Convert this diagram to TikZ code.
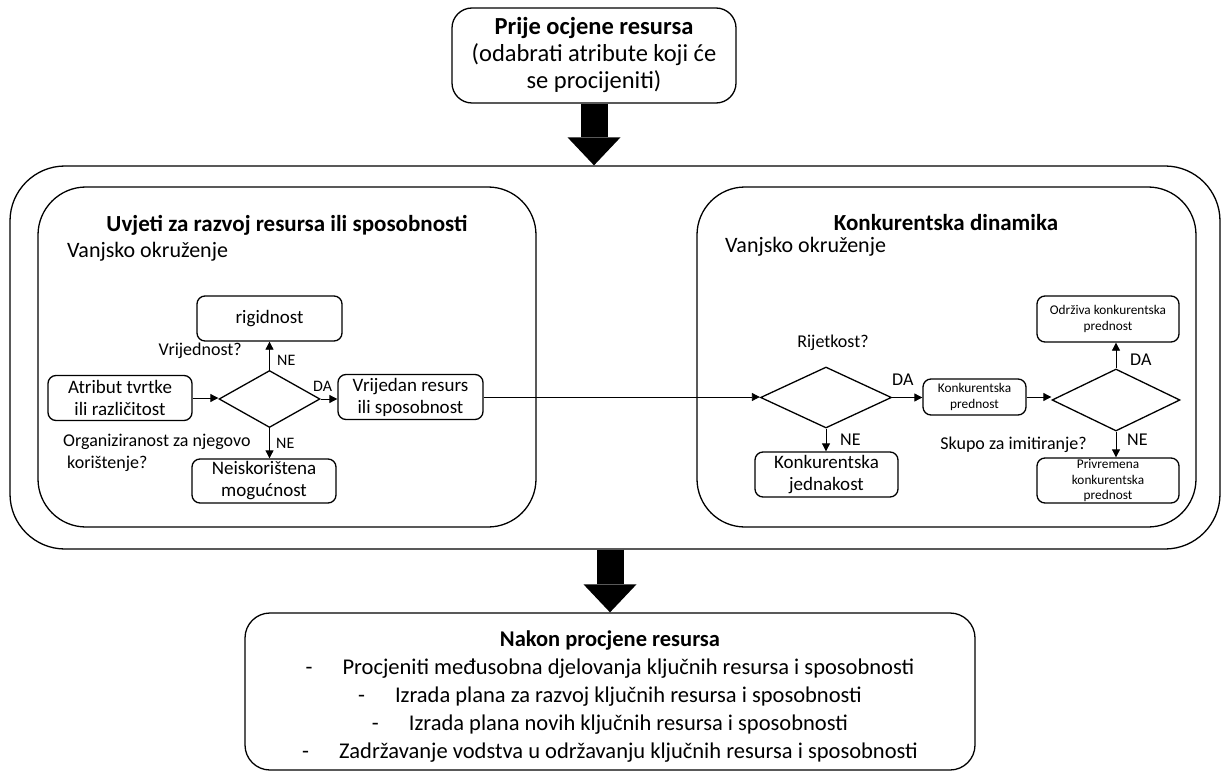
\documentclass[tikz,border=0pt]{standalone}
\usepackage{fontspec}
\setmainfont{Carlito}
\usetikzlibrary{shapes.geometric, arrows.meta}
\tikzstyle{arrow} = [line width=0.8pt,-{Triangle[length=8pt,width=8pt]}]
\tikzstyle{bigarrow} = [line width=27pt,-{Triangle[length=28pt,width=53pt,line width=0pt]}]
\tikzstyle{box} = [rectangle, rounded corners=8pt, draw=black, line width=1.3pt, align=center, inner sep=0pt, font=\fontsize{19}{22}\selectfont]
\tikzstyle{smallbox} = [box, font=\fontsize{13.3}{15.5}\selectfont]
\tikzstyle{decision} = [diamond, draw=black, line width=1.3pt, inner sep=0pt]
\tikzstyle{panel} = [rectangle, draw=black, line width=1.3pt, rounded corners=48pt]
\tikzstyle{heading} = [inner sep=0pt, font=\fontsize{23}{27}\selectfont\bfseries]
\tikzstyle{env} = [inner sep=0pt, font=\fontsize{22}{26}\selectfont]
\tikzstyle{note} = [inner sep=0pt, font=\fontsize{18}{22}\selectfont]
\tikzstyle{answer} = [inner sep=0pt, font=\fontsize{16}{19}\selectfont]

\begin{document}
\begin{tikzpicture}[x=1pt,y=-1pt]
        \useasboundingbox (0,0) rectangle (1224,778);

        % Before the assessment
        \node (before) at (594,55.5) [box, rounded corners=20pt, minimum width=284pt, minimum height=95pt,
        font=\fontsize{24.5}{27}\selectfont]
        {\textbf{Prije ocjene resursa}\\(odabrati atribute koji će\\se procijeniti)};

        % Frame and panels
        \node (outer) at (615,357.5) [panel, rounded corners=55pt, minimum width=1210pt, minimum height=383pt] {};
        \node (leftpanel) at (287,357) [panel, minimum width=498pt, minimum height=340pt] {};
        \node (rightpanel) at (946.5,357) [panel, minimum width=499pt, minimum height=340pt] {};

        % Panel titles
        \node (lefttitle) at (287,225) [heading] {Uvjeti za razvoj resursa ili sposobnosti};
        \node (leftenv) at (67,252) [env, anchor=west] {Vanjsko okruženje};
        \node (righttitle) at (946,223) [heading] {Konkurentska dinamika};
        \node (rightenv) at (725,247) [env, anchor=west] {Vanjsko okruženje};

        % Left flow
        \node (attr) at (120,398) [box, minimum width=144pt, minimum height=45pt] {Atribut tvrtke\\ili različitost};
        \node (value) at (269.5,399) [decision, minimum width=101pt, minimum height=57pt] {};
        \node (rigid) at (269.5,318.5) [box, minimum width=145pt, minimum height=45pt] {rigidnost};
        \node (valres) at (410.5,397) [box, minimum width=145pt, minimum height=45pt] {Vrijedan resurs\\ili sposobnost};
        \node (unused) at (264,481) [box, minimum width=144pt, minimum height=44pt] {Neiskorištena\\mogućnost};

        % Right flow
        \node (rare) at (826,397.5) [decision, minimum width=131pt, minimum height=61pt] {};
        \node (advant) at (974.5,397) [smallbox, minimum width=103pt, minimum height=36pt] {Konkurentska\\prednost};
        \node (imit) at (1116,400) [decision, minimum width=128pt, minimum height=62pt] {};
        \node (sustain) at (1108,319) [smallbox, minimum width=142pt, minimum height=46pt] {Održiva konkurentska\\prednost};
        \node (temp) at (1108,480.5) [smallbox, minimum width=142pt, minimum height=45pt] {Privremena\\konkurentska\\prednost};
        \node (parity) at (826.5,474.5) [box, minimum width=143pt, minimum height=45pt] {Konkurentska\\jednakost};

        % Questions and answers
        \node (qvalue) at (242,351) [note, anchor=east] {Vrijednost?};
        \node (neup) at (277,360) [answer, anchor=west] {NE};
        \node (daleft) at (313,386) [answer, anchor=west] {DA};
        \node (nedown) at (276,443) [answer, anchor=west] {NE};
        \node (qorg) at (63,453) [note, anchor=west, align=left] {Organiziranost za njegovo\\\hspace*{4pt}korištenje?};
        \node (qrare) at (833,343) [note] {Rijetkost?};
        \node (daright) at (892,380) [note, anchor=west] {DA};
        \node (neparity) at (840,440) [note, anchor=west] {NE};
        \node (qimit) at (1087,445) [note, anchor=east] {Skupo za imitiranje?};
        \node (netemp) at (1127,440) [note, anchor=west] {NE};
        \node (dasustain) at (1130,360) [note, anchor=west] {DA};

        % Connectors
        \draw [arrow] (attr.east) -- (attr.east -| value.west);
        \draw [arrow] (value.north) -- (rigid.south);
        \draw [arrow] (value.east) -- (value.east -| valres.west);
        \draw [arrow] (value.south) -- (value.south |- unused.north);
        \draw [arrow] (valres.east) -- (valres.east -| rare.west);
        \draw [arrow] (rare.east) -- (rare.east -| advant.west);
        \draw [arrow] (rare.south) -- (rare.south |- parity.north);
        \draw [arrow] (advant.east) -- (advant.east -| imit.west);
        \draw [arrow] (imit.north) -- (imit.north |- sustain.south);
        \draw [arrow] (imit.south) -- (imit.south |- temp.north);

        % After the assessment
        \node (after) at (610,691.5) [box, rounded corners=25pt, minimum width=730pt, minimum height=157pt] {};
        \node (aftertext) at (610,696.5) [align=center, inner sep=0pt, font=\fontsize{22.5}{28}\selectfont]
        {\textbf{Nakon procjene resursa}\\
        -\hspace{30pt}Procjeniti međusobna djelovanja ključnih resursa i sposobnosti\\
        -\hspace{30pt}Izrada plana za razvoj ključnih resursa i sposobnosti\\
        -\hspace{30pt}Izrada plana novih ključnih resursa i sposobnosti\\
        -\hspace{30pt}Zadržavanje vodstva u održavanju ključnih resursa i sposobnosti};

        % Block arrows
        \draw [bigarrow] (before.south) -- (before.south |- outer.north);
        \draw [bigarrow] (after.north |- outer.south) -- (after.north);
\end{tikzpicture}
\end{document}
